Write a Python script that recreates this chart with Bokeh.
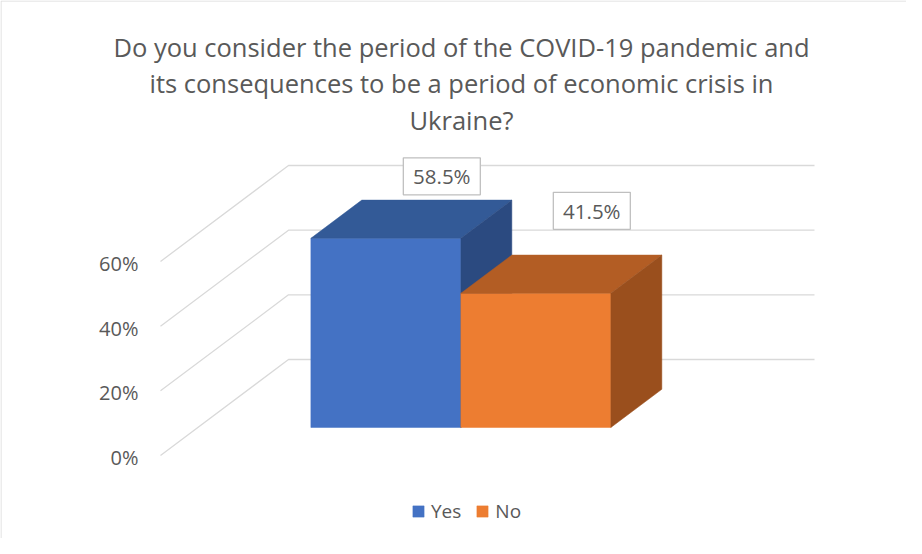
from bokeh.plotting import figure
from bokeh.models import ColumnDataSource, Range1d, Legend, LegendItem
from bokeh.embed import file_html
from bokeh.resources import INLINE
from bokeh.core.properties import value

# ---------------- data ----------------
title_lines = [
    "Do you consider the period of the COVID-19 pandemic and",
    "its consequences to be a period of economic crisis in",
    "Ukraine?",
]
categories = ["Yes", "No"]
shares = [58.5, 41.5]
value_labels = ["58.5%", "41.5%"]
tick_values = [0, 20, 40, 60]
tick_labels = ["0%", "20%", "40%", "60%"]

front_colors = ["#4472C4", "#ED7D31"]
top_colors = ["#335A97", "#B35D24"]
side_colors = ["#2B4A80", "#9A4F1D"]

TEXT = "#595959"
GRID = "#D9D9D9"
FONT = value("Open Sans")

# ---------------- layout (pixels) ----------------
W, H = 906, 538
PXU = 194.0 / 60.0        # pixels per percentage point
ORIGIN = 455.0            # canvas y of 0 % on the front-left edge
DX = 128.0                # depth offset, x pixels
DZ = 96.0 / PXU           # depth offset, in value units
FX0 = 160.0               # front-left x of floor
FW = 526.0                # floor width
TF, TB = 0.292, 0.69      # bar front / back depth fraction
BW = 150.0                # bar width
LABEL_BASE, LABEL_K = 49.6, 0.628   # data-label placement (value space)
LABEL_DX = 5.0


def cy2d(cy):
    return (ORIGIN - cy) / PXU


p = figure(width=W, height=H, x_range=Range1d(0, W),
           y_range=Range1d(cy2d(H), cy2d(0)),
           x_axis_type=None, y_axis_type=None, min_border=0,
           toolbar_location=None, output_backend="svg",
           outline_line_color=None, background_fill_color="white",
           border_fill_color="white")

# card border (top and left)
p.segment(x0=[0.5, 0.5], y0=[cy2d(0.5), cy2d(0.5)], x1=[W, 0.5], y1=[cy2d(0.5), cy2d(H)],
          line_color=GRID, line_width=1)

# title
p.text(x=[W / 2 + 8] * len(title_lines),
       y=[cy2d(46 + 36.5 * i) for i in range(len(title_lines))],
       text=title_lines, text_font=FONT, text_font_size="25.5px",
       text_color=TEXT, text_align="center", text_baseline="middle")

# gridlines (left wall + back wall)
gx = [[FX0, FX0 + DX, FX0 + DX + FW] for v in tick_values]
gy = [[v, v + DZ, v + DZ] for v in tick_values]
p.multi_line(xs=gx, ys=gy, line_color=GRID, line_width=1.3)

# tick labels
p.text(x=[FX0 - 22] * len(tick_values), y=[v - 2 / PXU for v in tick_values],
       text=tick_labels, text_font=FONT, text_font_size="20px",
       text_color=TEXT, text_align="right", text_baseline="middle")

# 3D bars
n = len(categories)
xs, ys, fills = [], [], []
lefts = [FX0 + (FW - n * BW) / 2 + i * BW for i in range(n)]
for i, v in enumerate(shares):
    L, R = lefts[i], lefts[i] + BW
    zf, zb = TF * DZ, TB * DZ
    xf, xb = TF * DX, TB * DX
    # front
    xs.append([L + xf, R + xf, R + xf, L + xf])
    ys.append([zf, zf, v + zf, v + zf])
    fills.append(front_colors[i])
    # top
    xs.append([L + xf, R + xf, R + xb, L + xb])
    ys.append([v + zf, v + zf, v + zb, v + zb])
    fills.append(top_colors[i])
    # side
    xs.append([R + xf, R + xb, R + xb, R + xf])
    ys.append([zf, zb, v + zb, v + zf])
    fills.append(side_colors[i])

bars = p.patches(xs="xs", ys="ys", fill_color="fill", line_color="fill", line_width=0.5,
                 source=ColumnDataSource(dict(xs=xs, ys=ys, fill=fills)))

# data labels
lx = [lefts[i] + BW / 2 + TB * DX + LABEL_DX for i in range(n)]
ly = [LABEL_BASE + LABEL_K * shares[i] for i in range(n)]
p.rect(x=lx, y=ly, width=77, height=37, width_units="screen", height_units="screen",
       fill_color="white", line_color="#BFBFBF", line_width=1.3)
p.text(x=lx, y=ly, text=value_labels, text_font=FONT, text_font_size="20.5px",
       text_color=TEXT, text_align="center", text_baseline="middle")

# legend (icons taken from each bar's front face)
legend = Legend(items=[LegendItem(label=categories[i], renderers=[bars], index=3 * i)
                       for i in range(n)],
                orientation="horizontal", location=(411, 14),
                border_line_color=None, background_fill_alpha=0,
                label_text_font="Open Sans", label_text_font_size="19px",
                label_text_color=TEXT, glyph_width=14, glyph_height=14,
                label_standoff=6, spacing=14, padding=0, margin=0)
p.add_layout(legend)

open("out.html", "w").write(file_html(p, INLINE))
